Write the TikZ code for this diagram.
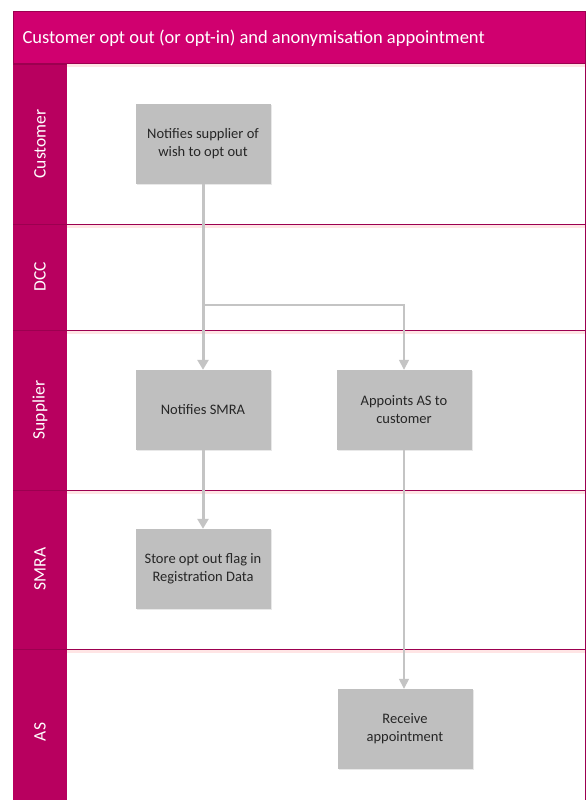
\documentclass[tikz,border=0pt]{standalone}
\usepackage{fontspec}
\setmainfont{Carlito}
\usetikzlibrary{arrows.meta,shadows}
\definecolor{titlemag}{HTML}{D0006F}
\definecolor{lanemag}{HTML}{B8005F}
\definecolor{linemag}{HTML}{9C0050}
\definecolor{boxgray}{HTML}{BFBFBF}
\definecolor{flowgray}{HTML}{C4C4C4}
\tikzset{
  x=1pt, y=-1pt,
  stepbox/.style={fill=boxgray, minimum width=135pt, minimum height=80pt,
    align=center, font=\fontsize{14.5}{18}\selectfont, text=black!85, inner sep=2pt,
    drop shadow={opacity=0.18, shadow xshift=1pt, shadow yshift=-1.2pt}},
  lanelabel/.style={rotate=90, text=white, font=\fontsize{17.5}{20}\selectfont},
  laneline/.style={draw=linemag, line width=1pt},
  thickflow/.style={draw=flowgray, line width=3pt, -{Triangle[width=11pt,length=10pt]}},
  thinflow/.style={draw=flowgray, line width=1.6pt, -{Triangle[width=10pt,length=10pt]}},
}
\begin{document}
\begin{tikzpicture}
\useasboundingbox (0,0) rectangle (586,800);
\fill[white] (0,0) rectangle (586,800);
% title bar
\fill[titlemag] (13,11) rectangle (585,64);
\node[anchor=west, text=white, font=\fontsize{18.5}{22}\selectfont] (title) at (19,38) {Customer opt out (or opt-in) and anonymisation appointment};
% lane header strip and right border
\fill[lanemag] (13,64) rectangle (67,800);
\draw[linemag, line width=1pt] (585,64) -- (585,800);
\draw[linemag, line width=0.8pt] (13,11) rectangle (585,64);
% lane separators with a faint pink glow
\foreach \y in {64,224,330,490,649}{
  \draw[pink!40, line width=3pt] (67,\y+2) -- (585,\y+2);
  \draw[laneline] (13,\y) -- (585,\y);
}
% lane names
\node[lanelabel] (lcust) at (40,144) {Customer};
\node[lanelabel] (ldcc) at (40,277) {DCC};
\node[lanelabel] (lsup) at (40,410) {Supplier};
\node[lanelabel] (lsmra) at (40,569) {SMRA};
\node[lanelabel] (las) at (40,732) {AS};
% process steps
\node[stepbox] (cust) at (203,144) {Notifies supplier of\\wish to opt out};
\node[stepbox] (notify) at (203,410) {Notifies SMRA};
\node[stepbox] (appoint) at (404,410) {Appoints AS to\\customer};
\node[stepbox] (store) at (203,569) {Store opt out flag in\\Registration Data};
\node[stepbox] (receive) at (405,729) {Receive\\appointment};
% flows
\coordinate (split) at (203,305);
\draw[thinflow] (split) -| (appoint.north);
\draw[thickflow] (cust.south) -- (notify.north);
\draw[thickflow] (notify.south) -- (store.north);
\draw[thinflow] (appoint.south) -- (receive.north -| appoint.south);
\end{tikzpicture}
\end{document}
